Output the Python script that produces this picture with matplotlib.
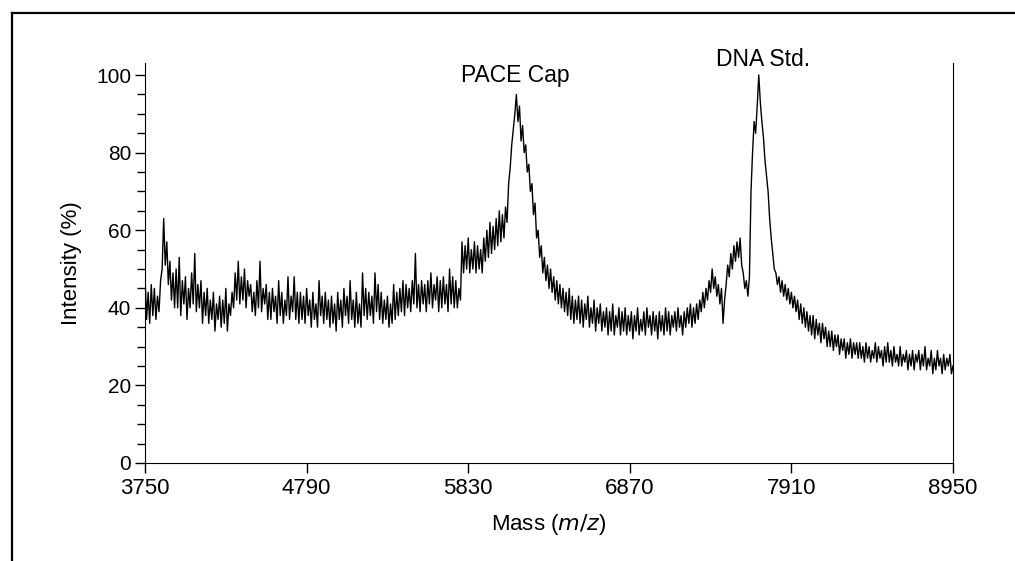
import numpy as np
import matplotlib
matplotlib.use('Agg')
import matplotlib.pyplot as plt
from matplotlib.lines import Line2D
from matplotlib.ticker import MultipleLocator

# DATA (intensity every 10 m/z, 3750..8950)
mass = np.arange(3750, 8951, 10)
intensity = [
    48, 37, 44, 36, 46, 38, 45, 37, 43, 39, 47, 50, 63, 51, 57, 46, 52, 42, 49, 40,   # 3750
    50, 40, 53, 38, 47, 41, 48, 37, 45, 40, 49, 41, 54, 39, 46, 40, 47, 36, 44, 38,   # 3950
    45, 36, 42, 37, 44, 34, 41, 37, 43, 35, 42, 36, 45, 34, 41, 38, 44, 40, 49, 42,   # 4150
    52, 41, 48, 42, 50, 40, 47, 43, 46, 39, 44, 38, 47, 40, 52, 39, 45, 41, 46, 37,   # 4350
    44, 37, 45, 39, 43, 36, 47, 38, 44, 36, 42, 38, 48, 37, 43, 39, 48, 37, 44, 36,   # 4550
    44, 37, 43, 36, 45, 38, 42, 35, 44, 37, 41, 35, 47, 38, 43, 36, 44, 37, 42, 35,   # 4750
    43, 36, 41, 34, 44, 37, 42, 35, 45, 38, 43, 36, 47, 37, 42, 35, 44, 36, 41, 35,   # 4950
    49, 38, 45, 37, 44, 38, 43, 36, 49, 39, 46, 37, 44, 36, 42, 37, 43, 35, 41, 36,   # 5150
    46, 37, 44, 38, 45, 39, 47, 38, 46, 40, 45, 39, 47, 41, 54, 40, 46, 39, 47, 41,   # 5350
    46, 39, 47, 41, 49, 40, 46, 42, 48, 39, 47, 40, 48, 41, 46, 39, 50, 41, 48, 40,   # 5550
    47, 40, 45, 42, 57, 49, 56, 50, 58, 49, 55, 50, 57, 49, 56, 50, 55, 49, 58, 52,   # 5750
    60, 53, 62, 54, 61, 55, 63, 56, 65, 57, 64, 58, 66, 62, 72, 76, 82, 86, 90, 95,   # 5950
    88, 92, 83, 87, 80, 82, 75, 77, 70, 72, 64, 67, 58, 60, 53, 56, 49, 53, 47, 51,   # 6150
    45, 50, 44, 48, 42, 47, 41, 46, 40, 45, 39, 44, 38, 45, 37, 43, 36, 42, 37, 43,   # 6350
    36, 42, 35, 41, 37, 43, 35, 40, 36, 42, 34, 40, 36, 41, 34, 39, 35, 40, 33, 39,   # 6550
    34, 41, 33, 38, 35, 40, 33, 39, 34, 40, 33, 38, 34, 39, 32, 38, 34, 40, 33, 37,   # 6750
    34, 39, 33, 40, 35, 38, 33, 39, 34, 38, 32, 39, 34, 38, 33, 40, 34, 39, 33, 38,   # 6950
    35, 39, 34, 40, 35, 38, 33, 39, 35, 40, 36, 41, 35, 40, 36, 41, 37, 42, 39, 44,   # 7150
    40, 45, 42, 47, 44, 50, 45, 48, 43, 46, 41, 45, 36, 42, 46, 51, 48, 54, 50, 56,   # 7350
    52, 57, 53, 58, 51, 49, 45, 47, 43, 48, 70, 80, 88, 85, 92, 100, 93, 88, 84, 78,  # 7550
    74, 70, 63, 58, 54, 50, 49, 46, 48, 44, 47, 43, 46, 42, 45, 41, 44, 40, 43, 39,   # 7750
    42, 37, 41, 36, 40, 35, 39, 34, 38, 33, 38, 32, 37, 33, 36, 31, 36, 32, 35, 30,   # 7950
    34, 30, 34, 29, 33, 30, 33, 28, 32, 29, 32, 27, 31, 28, 32, 27, 31, 28, 31, 27,   # 8150
    31, 27, 30, 26, 31, 27, 30, 26, 29, 27, 31, 26, 30, 27, 29, 25, 30, 26, 31, 26,   # 8350
    29, 25, 30, 26, 28, 25, 30, 25, 28, 26, 29, 24, 28, 25, 29, 24, 28, 26, 29, 24,   # 8550
    28, 25, 30, 24, 27, 25, 29, 23, 27, 24, 29, 25, 27, 23, 28, 24, 27, 25, 28, 23,   # 8750
    25,                                                                               # 8950
]
xticks = [3750, 4790, 5830, 6870, 7910, 8950]
peak_labels = [('PACE Cap', 6131, 98.2), ('DNA Std.', 7727, 102.3)]

plt.rcParams['font.family'] = ['Liberation Sans', 'DejaVu Sans']

fig = plt.figure(figsize=(10.15, 5.61), dpi=100)
ax = fig.add_axes([0.1429, 0.1747, 0.796, 0.7123])

ax.plot(mass, intensity, color='black', lw=1.0)

ax.set_xlim(3750, 8950)
ax.set_ylim(0, 103)
ax.spines['top'].set_visible(False)
ax.set_xticks(xticks)
ax.yaxis.set_major_locator(MultipleLocator(20))
ax.yaxis.set_minor_locator(MultipleLocator(5))
ax.tick_params(axis='y', which='major', direction='out', length=7, width=1,
               labelsize=15, pad=3)
ax.tick_params(axis='y', which='minor', direction='out', length=6, width=1)
ax.tick_params(axis='x', direction='out', length=7, width=1, labelsize=16,
               pad=4)
ax.tick_params(right=False, top=False)

ax.set_ylabel('Intensity (%)', fontsize=16, labelpad=10)
ax.set_xlabel('Mass ($m/z$)', fontsize=16, labelpad=9)

for label, x, y in peak_labels:
    ax.text(x, y, label, ha='center', va='baseline', fontsize=16.5,
            clip_on=False)

# outer frame (only its top and left edges fall inside the picture)
fig.add_artist(Line2D([0.0118, 1.0], [0.977, 0.977], color='black', lw=1.6,
                      transform=fig.transFigure))
fig.add_artist(Line2D([0.0118, 0.0118], [0.0, 0.977], color='black', lw=1.6,
                      transform=fig.transFigure))

assert len(intensity) == len(mass)
plt.savefig('out.png', dpi=100)
plt.close()
